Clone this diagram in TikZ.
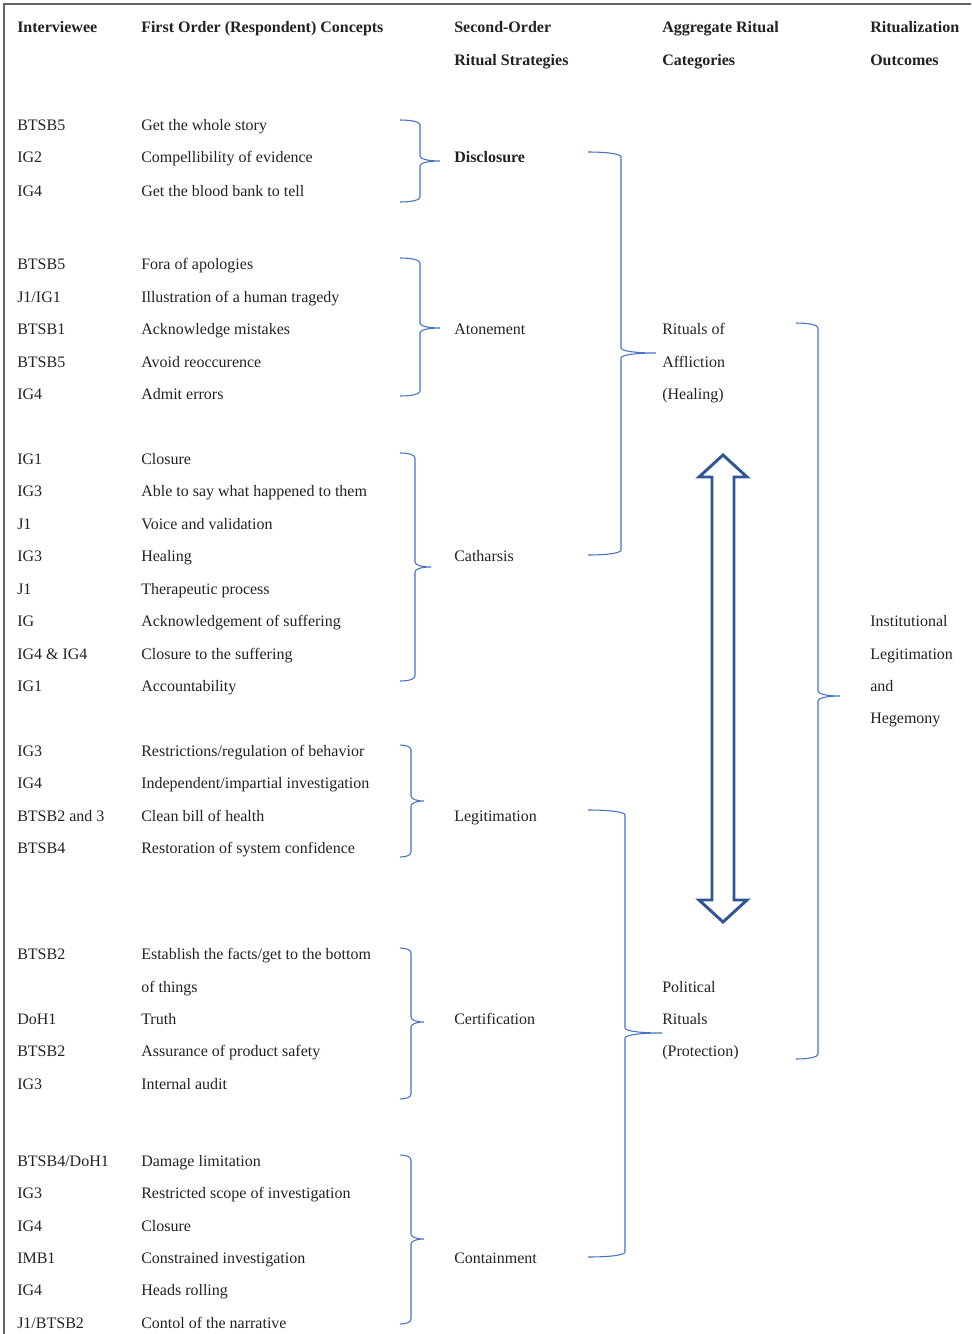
\documentclass[tikz,border=0pt]{standalone}
\usepackage{fontspec}
\setmainfont{Liberation Serif}
\definecolor{brc}{RGB}{68,114,196}
\definecolor{arw}{RGB}{47,85,151}
\definecolor{txtc}{RGB}{34,34,34}
\definecolor{frm}{RGB}{100,100,100}
\tikzset{
  txt/.style={anchor=base west,inner sep=0pt,yshift=-0.75pt,text=txtc,font=\fontsize{12}{14}\selectfont},
  hdr/.style={txt,font=\fontsize{12}{14}\selectfont\bfseries},
  brcline/.style={draw=brc,line width=0.8pt},
}
\newcommand{\rbrc}[6]{% x0, xv, xt, ytop, ymid, ybot
  \draw[brcline] (#1,#4) .. controls ({#1+0.6*(#2-#1)},#4) and (#2,{#4+2}) .. (#2,{#4+5})
    -- (#2,{#5-5}) .. controls (#2,{#5-2}) and ({#2+0.4*(#3-#2)},#5) .. (#3,#5)
    .. controls ({#2+0.4*(#3-#2)},#5) and (#2,{#5+2}) .. (#2,{#5+5})
    -- (#2,{#6-5}) .. controls (#2,{#6-2}) and ({#1+0.6*(#2-#1)},#6) .. (#1,#6);}
\newcommand{\rw}[4]{% name, y, interviewee, concept
  \node[txt] (i#1) at (17,{#2+5}) {#3};
  \node[txt] (c#1) at (141,{#2+5}) {#4};}
\begin{document}
\begin{tikzpicture}[x=0.75pt,y=-0.75pt]
\useasboundingbox (0,0) rectangle (971,1334);
% frame
\draw[frm,line width=1.2pt] (4,1334) -- (4,4) -- (971,4);
% headers
\node[hdr] (h1) at (17,32) {Interviewee};
\node[hdr] (h2) at (141,32) {First Order (Respondent) Concepts};
\node[hdr] (h3a) at (454,32) {Second-Order};
\node[hdr] (h3b) at (454,65) {Ritual Strategies};
\node[hdr] (h4a) at (662,32) {Aggregate Ritual};
\node[hdr] (h4b) at (662,65) {Categories};
\node[hdr] (h5a) at (870,32) {Ritualization};
\node[hdr] (h5b) at (870,65) {Outcomes};
% group 1
\rw{1}{125}{BTSB5}{Get the whole story}
\rw{2}{157}{IG2}{Compellibility of evidence}
\rw{3}{190}{IG4}{Get the blood bank to tell}
% group 2
\rw{4}{263}{BTSB5}{Fora of apologies}
\rw{5}{296}{J1/IG1}{Illustration of a human tragedy}
\rw{6}{328}{BTSB1}{Acknowledge mistakes}
\rw{7}{361}{BTSB5}{Avoid reoccurence}
\rw{8}{393}{IG4}{Admit errors}
% group 3
\rw{9}{458}{IG1}{Closure}
\rw{10}{490}{IG3}{Able to say what happened to them}
\rw{11}{523}{J1}{Voice and validation}
\rw{12}{555}{IG3}{Healing}
\rw{13}{588}{J1}{Therapeutic process}
\rw{14}{620}{IG}{Acknowledgement of suffering}
\rw{15}{653}{IG4 \& IG4}{Closure to the suffering}
\rw{16}{685}{IG1}{Accountability}
% group 4
\rw{17}{750}{IG3}{Restrictions/regulation of behavior}
\rw{18}{782}{IG4}{Independent/impartial investigation}
\rw{19}{815}{BTSB2 and 3}{Clean bill of health}
\rw{20}{847}{BTSB4}{Restoration of system confidence}
% group 5
\rw{21}{953}{BTSB2}{Establish the facts/get to the bottom}
\node[txt] (c21b) at (141,991) {of things};
\rw{22}{1018}{DoH1}{Truth}
\rw{23}{1050}{BTSB2}{Assurance of product safety}
\rw{24}{1083}{IG3}{Internal audit}
% group 6
\rw{25}{1160}{BTSB4/DoH1}{Damage limitation}
\rw{26}{1192}{IG3}{Restricted scope of investigation}
\rw{27}{1225}{IG4}{Closure}
\rw{28}{1257}{IMB1}{Constrained investigation}
\rw{29}{1289}{IG4}{Heads rolling}
\rw{30}{1322}{J1/BTSB2}{Contol of the narrative}
% second order
\node[hdr] (s1) at (454,162) {Disclosure};
\node[txt] (s2) at (454,333) {Atonement};
\node[txt] (s3) at (454,560) {Catharsis};
\node[txt] (s4) at (454,820) {Legitimation};
\node[txt] (s5) at (454,1023) {Certification};
\node[txt] (s6) at (454,1262) {Containment};
% aggregate
\node[txt] (a1) at (662,333) {Rituals of};
\node[txt] (a2) at (662,366) {Affliction};
\node[txt] (a3) at (662,398) {(Healing)};
\node[txt] (p1) at (662,991) {Political};
\node[txt] (p2) at (662,1023) {Rituals};
\node[txt] (p3) at (662,1055) {(Protection)};
% outcomes
\node[txt] (o1) at (870,625) {Institutional};
\node[txt] (o2) at (870,658) {Legitimation};
\node[txt] (o3) at (870,690) {and};
\node[txt] (o4) at (870,722) {Hegemony};
% first-level braces
\rbrc{400}{420}{440}{120}{161}{202}
\rbrc{400}{420}{440}{258}{328}{396}
\rbrc{400}{415}{431}{453}{567}{681}
\rbrc{400}{411}{424}{745}{801}{857}
\rbrc{400}{411}{424}{948}{1022}{1099}
\rbrc{400}{411}{424}{1155}{1239}{1324}
% second-level braces
\rbrc{588}{621}{656}{152}{353}{555}
\rbrc{588}{625}{662}{810}{1033}{1257}
% third-level brace
\rbrc{796}{818}{840}{323}{696}{1059}
% double arrow
\draw[arw,line width=2.2pt,line join=miter,fill=white] (723,455) -- (747,477) -- (734,477) -- (734,900) -- (747,900)
  -- (723,922) -- (699,900) -- (712,900) -- (712,477) -- (699,477) -- cycle;
\end{tikzpicture}
\end{document}
